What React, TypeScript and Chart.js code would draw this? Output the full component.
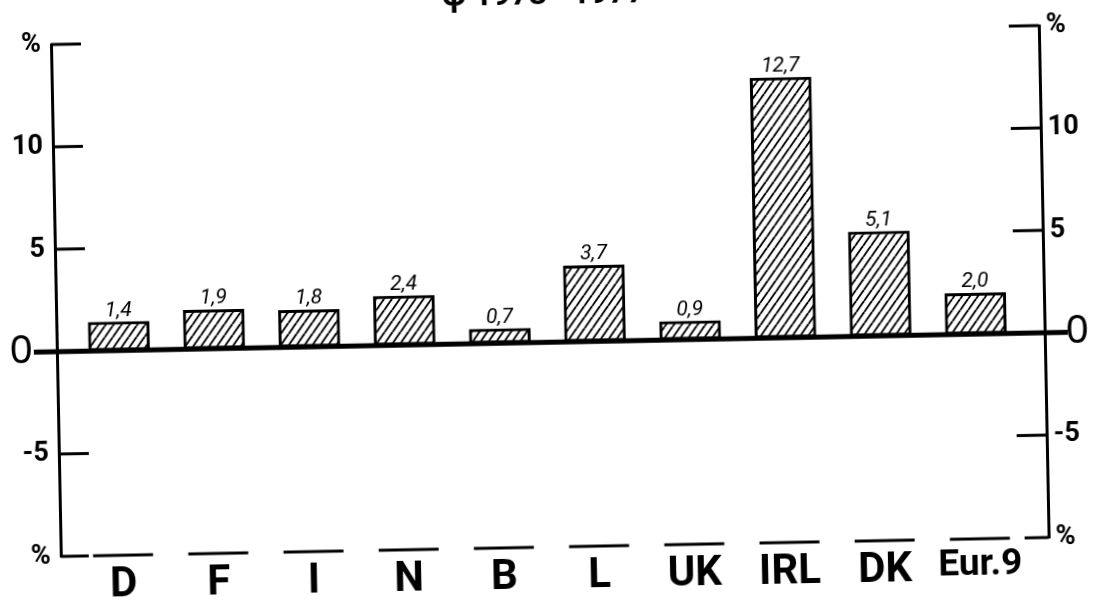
import React, { useEffect, useRef } from 'react';
import { Chart, registerables } from 'chart.js';

Chart.register(...registerables);

// ---- data ----
const categories = ['D', 'F', 'I', 'N', 'B', 'L', 'UK', 'IRL', 'DK', 'Eur.9'];
const growth = [1.4, 1.9, 1.8, 2.4, 0.7, 3.7, 0.9, 12.7, 5.1, 2.0];
const valueLabels = ['1,4', '1,9', '1,8', '2,4', '0,7', '3,7', '0,9', '12,7', '5,1', '2,0'];
const yTickValues = [-10, -5, 0, 5, 10, 15];
const innerTickValues = [15, 10, 5, -5];
const chartTitle = 'φ 1973—1977';

// ---- layout ----
const W = 1099;
const T = 23;
const H = 603 + T;
const COND = "Roboto, 'Liberation Sans', sans-serif";
const TICK_LEN = 30;
const ZERO_EXT = 23;
const SEG_HALF = 30;

function makeHatch(): CanvasPattern | string {
  const c = document.createElement('canvas');
  const w = 8;
  const h = 11;
  c.width = w;
  c.height = h;
  const g = c.getContext('2d');
  if (!g) return '#fff';
  g.fillStyle = '#fff';
  g.fillRect(0, 0, w, h);
  g.strokeStyle = '#000';
  g.lineWidth = 1.9;
  for (let k = -1; k <= 1; k++) {
    g.beginPath();
    g.moveTo(k * w, h);
    g.lineTo(k * w + w, 0);
    g.stroke();
  }
  return g.createPattern(c, 'repeat') || '#fff';
}

const decorPlugin = {
  id: 'decor',
  afterDatasetsDraw(chart: any) {
    const { ctx, chartArea: a, scales } = chart;
    const x = scales.x;
    const y = scales.y;
    const line = (x1: number, y1: number, x2: number, y2: number) => {
      ctx.beginPath();
      ctx.moveTo(x1, y1);
      ctx.lineTo(x2, y2);
      ctx.stroke();
    };
    ctx.save();
    ctx.strokeStyle = '#000';
    ctx.lineCap = 'butt';
    ctx.lineWidth = 3;
    for (const v of innerTickValues) {
      const py = y.getPixelForValue(v);
      line(a.left, py, a.left + TICK_LEN, py);
      line(a.right - TICK_LEN, py, a.right, py);
    }
    const pb = y.getPixelForValue(-10);
    line(a.left, pb, a.left + TICK_LEN - 2, pb);
    line(a.right - TICK_LEN + 6, pb, a.right, pb);
    categories.forEach((_, i) => {
      const cx = x.getPixelForValue(i);
      line(cx - SEG_HALF, pb, cx + SEG_HALF, pb);
    });
    ctx.lineWidth = 5;
    const p0 = y.getPixelForValue(0);
    line(a.left - ZERO_EXT, p0, a.right + ZERO_EXT, p0);

    ctx.fillStyle = '#000';
    ctx.font = `italic 21px ${COND}`;
    ctx.textAlign = 'center';
    ctx.textBaseline = 'alphabetic';
    const meta = chart.getDatasetMeta(0);
    meta.data.forEach((el: any, i: number) => {
      ctx.fillText(valueLabels[i], el.x, el.y - 6);
    });
    ctx.restore();
  },
};

const yTickFont = (c: any) =>
  c && c.tick && c.tick.value === 0
    ? { family: "'Liberation Sans', Arial, sans-serif", size: 40, weight: 'normal' as const }
    : { family: COND, size: 27, weight: 'bold' as const };

const xTickFont = (c: any) => {
  const label = c && c.tick ? categories[c.tick.value] : '';
  return { family: COND, size: label && label.length > 3 ? 37 : 42, weight: 'bold' as const };
};

const leftLabel = (v: number) => (v === 15 || v === -10 ? '%' : v === 0 ? '0 \u200A' : String(v));
const rightLabel = (v: number) => (v === 15 || v === -10 ? '%' : v === 0 ? '\u200A 0' : String(v));

export default function App() {
  const ref = useRef<HTMLCanvasElement | null>(null);

  useEffect(() => {
    if (!ref.current) return;
    const hatch = makeHatch();
    const chart = new Chart(ref.current, {
      type: 'bar',
      data: {
        datasets: [
          {
            data: growth.map((v, i) => ({ x: i, y: v })),
            backgroundColor: hatch as any,
            borderColor: '#000',
            borderWidth: 3,
            borderSkipped: false,
            barThickness: 61,
          },
        ],
      },
      options: {
        responsive: false,
        animation: false,
        events: [],
        layout: { padding: 0 },
        plugins: {
          legend: { display: false },
          tooltip: { enabled: false },
          title: {
            display: true,
            text: chartTitle,
            color: '#000',
            font: { family: COND, size: 32, weight: 'bold' },
            padding: { top: 0, bottom: 19.6 },
          },
        },
        scales: {
          x: {
            type: 'linear',
            offset: false,
            min: -0.654,
            max: 9.722,
            afterBuildTicks: (s: any) => {
              s.ticks = categories.map((_, i) => ({ value: i }));
            },
            afterFit: (s: any) => {
              s.height = 56;
            },
            grid: { display: false, drawTicks: false, offset: false },
            border: { display: false },
            ticks: {
              padding: 5,
              color: '#000',
              autoSkip: false,
              maxRotation: 0,
              font: xTickFont as any,
              callback: (v: any) => categories[v as number] ?? '',
            },
          },
          y: {
            type: 'linear',
            position: 'left',
            min: -10,
            max: 15,
            afterBuildTicks: (s: any) => {
              s.ticks = yTickValues.map((v) => ({ value: v }));
            },
            afterFit: (s: any) => {
              s.width = 56;
            },
            grid: { display: false, drawTicks: false },
            border: { display: true, color: '#000', width: 3 },
            ticks: {
              padding: 10,
              color: '#000',
              autoSkip: false,
              font: yTickFont as any,
              callback: (v: any) => leftLabel(Number(v)),
            },
          },
          y2: {
            type: 'linear',
            position: 'right',
            min: -10,
            max: 15,
            afterBuildTicks: (s: any) => {
              s.ticks = yTickValues.map((v) => ({ value: v }));
            },
            afterFit: (s: any) => {
              s.width = 55;
            },
            grid: { display: false, drawTicks: false },
            border: { display: true, color: '#000', width: 3 },
            ticks: {
              padding: 7,
              color: '#000',
              autoSkip: false,
              font: yTickFont as any,
              callback: (v: any) => rightLabel(Number(v)),
            },
          },
        },
      },
      plugins: [decorPlugin],
    });
    return () => chart.destroy();
  }, []);

  return (
    <div
      style={{
        position: 'fixed',
        left: 0,
        top: 0,
        width: W,
        height: 603,
        overflow: 'hidden',
        background: '#fff',
      }}
    >
      <div
        style={{
          position: 'absolute',
          left: 0,
          top: -T,
          width: W,
          height: H,
          transform: 'rotate(-1.1deg)',
          transformOrigin: `549.5px ${301.5 + T}px`,
        }}
      >
        <canvas ref={ref} width={W} height={H} style={{ display: 'block', width: W, height: H }} />
      </div>
    </div>
  );
}
